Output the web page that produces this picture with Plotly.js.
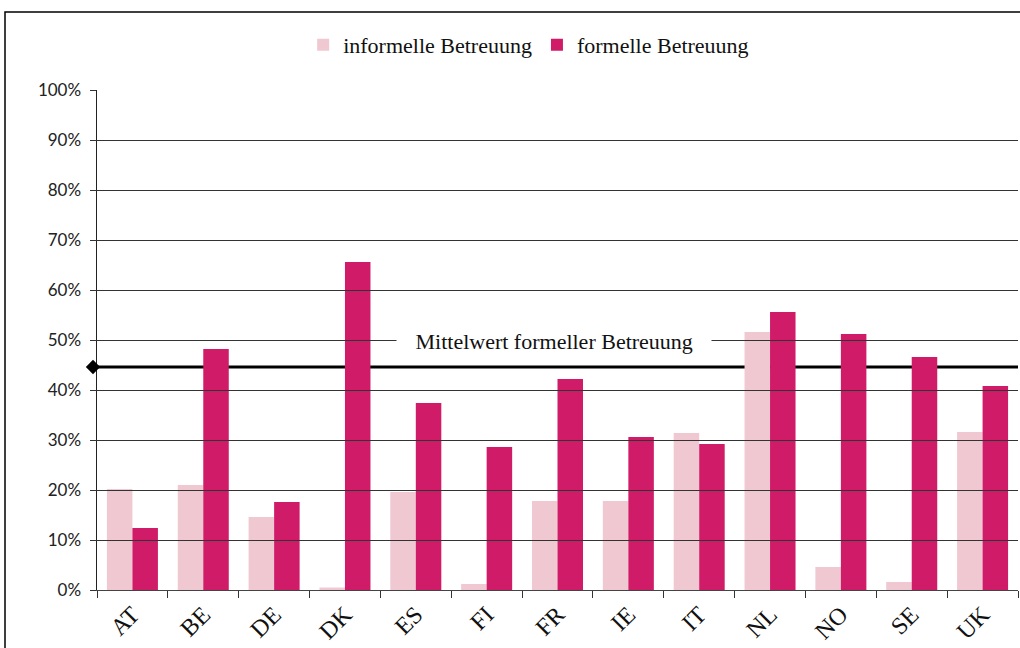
<!DOCTYPE html>
<html>
<head>
<meta charset="utf-8">
<script src="https://cdn.plot.ly/plotly-3.0.1.min.js"></script>
<style>html,body{margin:0;padding:0;background:#fff;}#chart{width:1020px;height:648px;}</style>
</head>
<body>
<div id="chart"></div>
<script>
const countries = ["AT","BE","DE","DK","ES","FI","FR","IE","IT","NL","NO","SE","UK"];
const informell = [20.2, 21.0, 14.6, 0.5, 19.6, 1.2, 17.8, 17.8, 31.4, 51.6, 4.6, 1.6, 31.6];
const formell   = [12.4, 48.2, 17.6, 65.6, 37.4, 28.6, 42.2, 30.6, 29.2, 55.6, 51.2, 46.6, 40.8];
const mittelwert = 44.6;
const meanLabel = "Mittelwert formeller Betreuung";
const yTicks = [0,10,20,30,40,50,60,70,80,90,100];
const yTickText = yTicks.map(v => v + "%");

const serif = "Liberation Serif, DejaVu Serif, serif";

const traces = [
  {type:"bar", name:"informelle Betreuung", x:countries, y:informell,
   marker:{color:"#F0C8D2"}, hoverinfo:"x+y"},
  {type:"bar", name:"formelle Betreuung", x:countries, y:formell,
   marker:{color:"#D01C68"}, hoverinfo:"x+y"},
  {type:"scatter", mode:"markers", x:[0], y:[mittelwert], xaxis:"x2", yaxis:"y",
   marker:{symbol:"diamond", size:11, color:"#000"}, cliponaxis:false,
   showlegend:false, hoverinfo:"y"}
];

const layout = {
  width:1020, height:648,
  margin:{l:93, r:2, t:90, b:58},
  font:{family:serif, size:22, color:"#111"},
  paper_bgcolor:"#fff", plot_bgcolor:"rgba(0,0,0,0)",
  barmode:"group", bargap:0.28, bargroupgap:0,
  showlegend:true,
  legend:{orientation:"h", x:0.471, xanchor:"center", y:1.09, yanchor:"middle",
          bgcolor:"rgba(0,0,0,0)",
          font:{family:serif, size:22, color:"#111"}, traceorder:"normal"},
  xaxis:{type:"category", domain:[4/925, 1], showgrid:false, showline:true,
         linecolor:"#444", linewidth:1,
         ticks:"outside", ticklen:7, tickcolor:"#333", tickson:"boundaries",
         tickangle:-45, tickfont:{family:serif, size:24, color:"#111"}, zeroline:false},
  xaxis2:{domain:[0,1], anchor:"y", range:[0,1], showgrid:false, showline:false,
          zeroline:false, showticklabels:false, ticks:"", fixedrange:true},
  yaxis:{anchor:"x", range:[0,100], tickvals:yTicks, ticktext:yTickText, showgrid:true,
         gridcolor:"#333", gridwidth:1, showline:true, linecolor:"#222", linewidth:1.5,
         ticks:"outside", ticklen:6, tickcolor:"#333", zeroline:false,
         ticklabelstandoff:5,
         tickfont:{family:"Lato, Open Sans, sans-serif", size:17, color:"#222"}},
  shapes:[
    {type:"line", xref:"paper", x0:0, x1:1, yref:"y", y0:mittelwert, y1:mittelwert,
     line:{color:"#000", width:3}, layer:"below"},
    {type:"rect", xref:"paper", yref:"paper", x0:-88/925, x1:1.05, y0:-0.3, y1:1.156,
     line:{color:"#000", width:1.5}, fillcolor:"rgba(0,0,0,0)", layer:"above"}
  ],
  annotations:[
    {xref:"paper", yref:"y", x:0.498, y:mittelwert + 5.2,
     text:"\u00a0\u00a0\u00a0" + meanLabel + "\u00a0\u00a0\u00a0", showarrow:false,
     font:{family:serif, size:22, color:"#111"}, bgcolor:"#fff", borderpad:2,
     xanchor:"center", yanchor:"middle"}
  ]
};

Plotly.newPlot("chart", traces, layout, {displayModeBar:false, staticPlot:true});
</script>
</body>
</html>
